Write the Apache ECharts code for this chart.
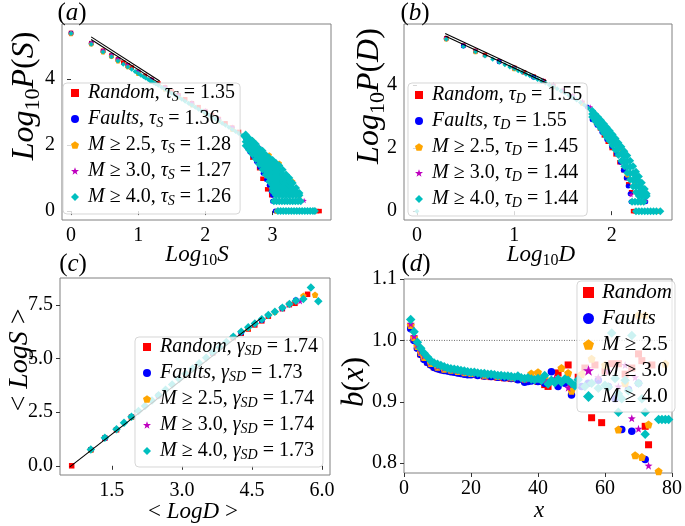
<!DOCTYPE html>
<html><head><meta charset="utf-8">
<script src="https://cdn.jsdelivr.net/npm/echarts@6/dist/echarts.min.js"></script>
<style>html,body{margin:0;padding:0;background:#fff}#c{width:685px;height:526px}</style>
</head><body><div id="c"></div>
<script>
// ---------- Panel (a): Log10 P(S) vs Log10 S ----------
const aRandom = [[0,5.40],[0.301,5.09],[0.477,4.86],[0.602,4.72],[0.699,4.60],[0.778,4.50],[0.845,4.42],[0.903,4.35],[1.0,4.22],[1.1,4.10],[1.2,3.98],[1.3,3.87],[1.4,3.75],[1.5,3.63],[1.6,3.51],[1.7,3.39],[1.8,3.27],[1.9,3.15],[2.0,3.03],[2.1,2.91],[2.2,2.79],[2.3,2.66],[2.4,2.53],[2.5,2.40],[2.6,2.25],[2.70,1.62],[2.80,1.30],[2.85,0.98],[2.92,0.66],[2.98,0.48],[3.62,0],[3.66,0],[3.70,0]];
const aFaults = [[0,5.39],[0.301,5.08],[0.477,4.84],[0.602,4.70],[0.699,4.58],[0.845,4.40],[1.0,4.20],[1.2,3.96],[1.4,3.72],[1.6,3.48],[1.8,3.24],[2.0,3.00],[2.2,2.76],[2.4,2.50],[2.6,2.20],[2.62,1.93],[2.66,1.80],[2.71,1.66],[2.76,1.50],[2.81,1.33],[2.86,1.15],[2.91,0.95],[2.95,0.78],[2.98,0.60],[3.0,0.48],[3.0,0.30],[3.04,0.0]];
const aM25 = [[0,5.38],[0.301,5.07],[0.477,4.83],[0.602,4.69],[0.699,4.56],[0.845,4.38],[1.0,4.18],[1.2,3.94],[1.4,3.70],[1.6,3.46],[1.8,3.22],[2.0,2.98],[2.2,2.74],[2.4,2.48],[2.70,2.15],[2.95,1.70],[3.10,1.45],[3.30,0.90],[3.40,0.48],[3.38,0.30],[3.06,0]];
const aM30 = [[0,5.40],[0.301,5.10],[0.477,4.87],[0.602,4.73],[0.699,4.61],[0.845,4.43],[1.0,4.24],[1.2,4.00],[1.4,3.77],[1.6,3.53],[1.8,3.29],[2.0,3.05],[2.2,2.81],[2.4,2.55],[2.80,1.95],[3.00,1.50],[3.20,1.10],[3.47,0.32],[3.50,0]];
const aM40 = [[0,5.38],[0.301,5.06],[0.477,4.82],[0.602,4.68],[0.699,4.55],[0.778,4.45],[0.845,4.37],[0.903,4.30],[0.954,4.23],[1.0,4.17],[1.04,4.12],[1.08,4.07],[1.11,4.03],[1.15,3.99],[1.18,3.95],[1.2,3.93],[1.23,3.89],[1.26,3.86],[1.3,3.81],[1.35,3.75],[1.4,3.69],[1.45,3.63],[1.5,3.57],[1.55,3.51],[1.6,3.45],[1.65,3.39],[1.7,3.33],[1.75,3.27],[1.8,3.21],[1.85,3.15],[1.9,3.09],[1.95,3.03],[2.0,2.97],[2.05,2.91],[2.1,2.85],[2.15,2.79],[2.2,2.73],[2.25,2.66],[2.3,2.60],[2.35,2.54],[2.4,2.47],[2.45,2.41],[2.5,2.35],[2.55,2.28],
[2.60,1.98],[2.60,2.10],[2.60,2.22],[2.60,2.32],
[2.65,1.85],[2.65,1.97],[2.65,2.09],[2.65,2.21],
[2.70,1.72],[2.70,1.84],[2.70,1.96],[2.70,2.08],[2.70,2.13],
[2.75,1.58],[2.75,1.70],[2.75,1.82],[2.75,1.94],[2.75,2.03],
[2.80,1.42],[2.80,1.54],[2.80,1.66],[2.80,1.78],[2.80,1.90],
[2.85,1.26],[2.85,1.38],[2.85,1.50],[2.85,1.62],[2.85,1.74],[2.85,1.83],
[2.90,1.10],[2.90,1.22],[2.90,1.34],[2.90,1.46],[2.90,1.58],[2.90,1.70],
[2.95,0.90],[2.95,1.02],[2.95,1.14],[2.95,1.26],[2.95,1.38],[2.95,1.50],[2.95,1.62],
[3.00,0.60],[3.00,0.70],[3.00,0.78],[3.00,0.90],[3.00,1.00],[3.00,1.11],[3.00,1.23],[3.00,1.35],[3.00,1.47],[3.00,1.55],
[3.05,0.48],[3.05,0.60],[3.05,0.70],[3.05,0.78],[3.05,0.90],[3.05,1.00],[3.05,1.11],[3.05,1.23],[3.05,1.35],[3.05,1.46],
[3.10,0.48],[3.10,0.60],[3.10,0.70],[3.10,0.78],[3.10,0.90],[3.10,1.00],[3.10,1.11],[3.10,1.23],[3.10,1.38],
[3.15,0.48],[3.15,0.60],[3.15,0.70],[3.15,0.78],[3.15,0.90],[3.15,1.00],[3.15,1.11],[3.15,1.25],
[3.20,0.48],[3.20,0.60],[3.20,0.70],[3.20,0.78],[3.20,0.90],[3.20,1.00],[3.20,1.11],
[3.25,0.48],[3.25,0.60],[3.25,0.70],[3.25,0.78],[3.25,0.90],[3.25,1.00],
[3.30,0.48],[3.30,0.60],[3.30,0.70],[3.30,0.85],
[3.35,0.48],[3.35,0.60],[3.35,0.70],
[3.40,0.48],[3.40,0.55],
[3.02,0.30],[3.06,0.30],[3.10,0.30],[3.14,0.30],[3.18,0.30],[3.22,0.30],[3.26,0.30],[3.30,0.30],[3.34,0.30],[3.38,0.30],[3.42,0.30],
[3.08,0],[3.12,0],[3.16,0],[3.20,0],[3.24,0],[3.28,0],[3.32,0],[3.36,0],[3.40,0],[3.44,0],[3.48,0],[3.52,0],[3.56,0],[3.60,0],[3.63,0]];
const aFit1 = [[0.30,5.28],[1.32,3.94]];
const aFit2 = [[0.30,5.20],[1.32,3.87]];
const aXTicks = [0,1,2,3];
const aYTicks = [0,2,4];

// ---------- Panel (b): Log10 P(D) vs Log10 D ----------
const bRandom = [[0.301,5.48],[0.477,5.25],[0.602,5.08],[0.699,4.95],[0.845,4.75],[1.0,4.54],[1.1,4.40],[1.2,4.26],[1.3,4.12],[1.4,3.97],[1.5,3.81],[1.6,3.63],[1.7,3.43],[1.80,2.95],[1.84,2.80],[1.88,2.62],[1.92,2.40],[1.96,2.20],[2.00,2.00],[2.04,1.80],[2.08,1.55],[2.12,1.30],[2.15,1.05],[2.17,0.85],[2.20,0.60],[2.33,0.50],[2.22,0],[2.24,0]];
const bFaults = [[0.301,5.46],[0.477,5.23],[0.602,5.06],[0.845,4.73],[1.0,4.52],[1.2,4.24],[1.4,3.95],[1.6,3.61],[1.75,3.30],[1.80,2.90],[1.85,2.72],[1.90,2.50],[1.95,2.27],[2.00,2.05],[2.05,1.82],[2.09,1.55],[2.12,1.30],[2.15,1.05],[2.17,0.80],[2.19,0.55],[2.20,0.30],[2.35,0.30],[2.36,0.48]];
const bM25 = [[0.301,5.46],[0.602,5.06],[1.0,4.52],[1.4,3.95],[1.7,3.42],[1.95,2.60],[2.10,1.95],[2.16,1.15],[2.24,0.90],[2.30,0.30],[2.48,0]];
const bM30 = [[0.301,5.49],[0.602,5.09],[1.0,4.55],[1.3,4.14],[1.4,4.00],[1.5,3.85],[1.6,3.68],[1.7,3.48],[1.78,3.30],[2.0,2.30],[2.2,0.52],[2.35,0.32]];
const bM40 = [[0,0],[0.301,5.45],[0.477,5.22],[0.602,5.05],[0.699,4.92],[0.778,4.81],[0.845,4.72],[0.903,4.64],[0.954,4.57],[1.0,4.51],[1.04,4.45],[1.08,4.40],[1.12,4.34],[1.16,4.29],[1.2,4.23],[1.24,4.17],[1.28,4.12],[1.32,4.06],[1.36,4.00],[1.40,3.94],[1.44,3.88],[1.48,3.81],[1.52,3.74],[1.56,3.67],[1.60,3.60],[1.64,3.52],[1.68,3.44],[1.72,3.36],[1.76,3.27],
[1.80,2.98],[1.80,3.08],[1.80,3.18],
[1.83,2.86],[1.83,2.97],[1.83,3.08],
[1.86,2.74],[1.86,2.86],[1.86,2.98],
[1.89,2.61],[1.89,2.74],[1.89,2.88],
[1.92,2.48],[1.92,2.62],[1.92,2.77],
[1.95,2.34],[1.95,2.50],[1.95,2.66],
[1.98,2.22],[1.98,2.38],[1.98,2.55],
[2.01,2.08],[2.01,2.25],[2.01,2.43],
[2.04,1.94],[2.04,2.12],[2.04,2.30],
[2.07,1.78],[2.07,1.98],[2.07,2.17],
[2.10,1.60],[2.10,1.82],[2.10,2.04],
[2.13,1.42],[2.13,1.58],[2.13,1.74],[2.13,1.90],
[2.16,1.22],[2.16,1.40],[2.16,1.58],[2.16,1.76],
[2.19,1.00],[2.19,1.20],[2.19,1.40],[2.19,1.60],
[2.22,0.78],[2.22,0.98],[2.22,1.20],[2.22,1.42],
[2.25,0.60],[2.25,0.78],[2.25,0.95],[2.25,1.10],[2.25,1.25],
[2.28,0.48],[2.28,0.60],[2.28,0.78],[2.28,0.95],[2.28,1.10],
[2.31,0.48],[2.31,0.60],[2.31,0.75],[2.31,0.90],
[2.34,0.48],[2.34,0.60],[2.34,0.70],
[2.36,0.48],[2.36,0.55],
[2.21,0.30],[2.24,0.30],[2.27,0.30],[2.30,0.30],[2.33,0.30],
[2.25,0],[2.28,0],[2.31,0],[2.34,0],[2.37,0],[2.40,0],[2.43,0],[2.46,0],[2.50,0]];
const bFit1 = [[0.29,5.63],[1.33,4.13]];
const bFit2 = [[0.29,5.55],[1.33,4.06]];
const bXTicks = [0,1,2];
const bYTicks = [0,2,4];

// ---------- Panel (c): <LogS> vs <LogD> ----------
const cRandom = [[0.64,0.0],[1.05,0.74],[1.35,1.29],[1.60,1.68],[1.92,2.27],[2.50,3.27],[3.08,4.27],[3.66,5.26],[4.10,5.98],[4.27,6.18],[4.42,6.38],[4.56,6.57],[4.71,6.76],[4.85,6.98],[5.15,7.33],[5.30,7.52],[5.42,7.58],[5.69,8.0]];
const cFaults = [[1.05,0.75],[1.35,1.30],[1.92,2.28],[2.50,3.28],[3.66,5.27],[4.27,6.22],[4.71,6.80],[5.15,7.36],[5.44,7.72]];
const cM25 = [[1.05,0.76],[1.92,2.29],[3.08,4.29],[4.42,6.45],[4.99,7.18],[5.60,7.93],[5.85,7.98]];
const cM30 = [[1.35,1.31],[2.50,3.29],[4.56,6.62],[5.15,7.34],[5.30,7.52],[5.53,7.68]];
const cM40 = [[1.05,0.76],[1.35,1.31],[1.60,1.70],[1.76,2.01],[1.92,2.29],[2.07,2.55],[2.21,2.79],[2.36,3.05],[2.50,3.29],[2.65,3.55],[2.79,3.79],[2.94,4.05],[3.08,4.29],[3.23,4.54],[3.37,4.78],[3.52,5.04],[3.66,5.28],[3.81,5.53],[3.95,5.77],[4.10,6.02],[4.27,6.25],[4.42,6.46],[4.56,6.64],[4.71,6.83],[4.85,7.03],[4.99,7.19],[5.15,7.37],[5.30,7.55],[5.44,7.70],[5.60,7.78],[5.76,8.32],[5.92,7.68]];
const cFit = [[0.60,-0.05],[4.71,6.91]];
const cXTicks = [1.5,3.0,4.5,6.0];
const cYTicks = [0,2.5,5.0,7.5];

// ---------- Panel (d): b(x) vs x ----------
const dRandom = [[2,1.022],[3,1.002],[4,0.989],[5,0.978],[6,0.971],[7,0.965],[8,0.961],[9,0.957],[10,0.955],[11,0.953],[12,0.952],[13,0.951],[14,0.950],[15,0.949],[16,0.948],[17,0.947],[18,0.946],[20,0.945],[22,0.944],[24,0.942],[26,0.941],[28,0.940],[30,0.939],[32,0.938],[34,0.937],[36,0.936],[38,0.935],[40,0.933],[42,0.928],[43,0.925],[46,0.947],[49,0.960],[50,0.925],[52,0.940],[54,0.955],[56,0.874],[57,0.960],[59,0.866],[60,0.950],[62,0.962],[64,0.962],[66,0.945],[68,0.955],[70,0.978],[71,0.967],[72,0.860],[73,0.830],[74,0.960]];
const dFaults = [[2,1.019],[3,1.000],[4,0.987],[5,0.977],[6,0.969],[7,0.964],[8,0.960],[9,0.956],[10,0.954],[11,0.952],[12,0.951],[13,0.950],[14,0.949],[15,0.948],[16,0.947],[17,0.946],[18,0.945],[19,0.944],[20,0.944],[22,0.943],[24,0.942],[26,0.941],[28,0.940],[30,0.939],[32,0.938],[34,0.936],[36,0.932],[37,0.933],[38,0.934],[40,0.933],[42,0.930],[44,0.949],[46,0.925],[48,0.930],[50,0.911],[53,0.925],[55,0.930],[58,0.935],[61,0.925],[63,0.905],[65,0.855],[67,0.920],[68,0.852],[70,0.930],[72,0.806]];
const dM25 = [[2,1.025],[3,1.005],[4,0.991],[5,0.981],[6,0.973],[8,0.963],[10,0.957],[12,0.954],[14,0.952],[16,0.950],[18,0.948],[20,0.947],[24,0.944],[28,0.942],[32,0.940],[36,0.938],[38,0.946],[40,0.948],[42,0.938],[45,0.935],[47,0.955],[49,0.947],[50,0.918],[53,0.945],[56,0.970],[60,0.960],[64,0.855],[66,0.930],[69,0.813],[70,1.041],[71,0.810],[72,1.041],[73,0.863],[76,0.787],[78,0.962]];
const dM30 = [[2,1.027],[3,1.007],[4,0.993],[5,0.982],[6,0.975],[8,0.965],[10,0.958],[12,0.955],[14,0.953],[16,0.951],[18,0.949],[20,0.948],[24,0.945],[28,0.942],[32,0.940],[36,0.937],[40,0.936],[42,0.935],[45,0.938],[49,0.923],[55,0.955],[58,0.940],[61,0.950],[64,0.925],[66,0.960],[68,0.873],[69,0.940],[70,0.856],[73,0.796]];
const dM40 = [[2,1.034],[3,1.014],[4,0.997],[5,0.987],[6,0.979],[7,0.973],[8,0.967],[9,0.963],[10,0.961],[11,0.959],[12,0.957],[13,0.955],[14,0.954],[15,0.953],[16,0.952],[17,0.951],[18,0.950],[19,0.949],[20,0.948],[21,0.948],[22,0.947],[23,0.946],[24,0.946],[25,0.945],[26,0.945],[27,0.944],[28,0.943],[29,0.943],[30,0.942],[31,0.942],[32,0.941],[33,0.940],[34,0.942],[35,0.939],[36,0.938],[37,0.939],[38,0.937],[39,0.936],[40,0.938],[41,0.935],[42,0.943],[43,0.929],[44,0.935],[45,0.931],[46,0.937],[47,0.932],[48,0.937],[49,0.935],[50,0.930],[51,0.926],[52,0.936],[54,0.925],[56,0.930],[58,0.922],[60,0.927],[61,0.924],[62,1.012],[63,0.938],[64,0.913],[64,0.883],[65,0.905],[66,0.935],[67,0.918],[68,1.008],[70,0.930],[71,0.905],[72,0.847],[72,0.883],[76,0.871],[77,0.871],[78,0.871],[79,0.871]];
const dRef = [[0,1.0],[80,1.0]];
const dXTicks = [0,20,40,60,80];
const dYTicks = [0.8,0.9,1.0,1.1];

// ---------- Legend texts ----------
const legA = ['{i|Random}{r|, }{i|τ}{s|S}{r| = 1.35}','{i|Faults}{r|, }{i|τ}{s|S}{r| = 1.36}','{i|M}{r| ≥ 2.5, }{i|τ}{s|S}{r| = 1.28}','{i|M}{r| ≥ 3.0, }{i|τ}{s|S}{r| = 1.27}','{i|M}{r| ≥ 4.0, }{i|τ}{s|S}{r| = 1.26}'];
const legB = ['{i|Random}{r|, }{i|τ}{s|D}{r| = 1.55}','{i|Faults}{r|, }{i|τ}{s|D}{r| = 1.55}','{i|M}{r| ≥ 2.5, }{i|τ}{s|D}{r| = 1.45}','{i|M}{r| ≥ 3.0, }{i|τ}{s|D}{r| = 1.44}','{i|M}{r| ≥ 4.0, }{i|τ}{s|D}{r| = 1.44}'];
const legC = ['{i|Random}{r|, }{i|γ}{s|SD}{r| = 1.74}','{i|Faults}{r|, }{i|γ}{s|SD}{r| = 1.73}','{i|M}{r| ≥ 2.5, }{i|γ}{s|SD}{r| = 1.74}','{i|M}{r| ≥ 3.0, }{i|γ}{s|SD}{r| = 1.74}','{i|M}{r| ≥ 4.0, }{i|γ}{s|SD}{r| = 1.73}'];
const legD = ['{i|Random}','{i|Faults}','{i|M}{r| ≥ 2.5}','{i|M}{r| ≥ 3.0}','{i|M}{r| ≥ 4.0}'];

// ---------- Build ----------
const FONT = 'Liberation Serif';
const COLORS = ['#ff0000','#0000ff','#ffa500','#bf00bf','#00bfbf'];
const PENT = 'path://M0,-10 L9.51,-3.09 L5.88,8.09 L-5.88,8.09 L-9.51,-3.09 Z';
const STAR = 'path://M0,-10 L2.35,-3.24 L9.51,-3.09 L3.8,1.24 L5.88,8.09 L0,4 L-5.88,8.09 L-3.8,1.24 L-9.51,-3.09 L-2.35,-3.24 Z';
const SYMS = ['rect','circle',PENT,STAR,'diamond'];

// cloud markers (dense part) drawn a bit bigger so the band reads as filled
const cloudA = v => v[0] > 2.57 ? 8 : 5;
const cloudB = v => v[0] > 1.78 ? 8 : 5;
const panels = [
  {k:'a', data:[aRandom,aFaults,aM25,aM30,aM40], sizes:[4.5,5,5.5,5.5,cloudA], fits:[aFit1,aFit2], leg:legA},
  {k:'b', data:[bRandom,bFaults,bM25,bM30,bM40], sizes:[4.5,5,5.5,5.5,cloudB], fits:[bFit1,bFit2], leg:legB},
  {k:'c', data:[cRandom,cFaults,cM25,cM30,cM40], sizes:[5.5,6,6.5,6.5,8.5], fits:[cFit], leg:legC},
  {k:'d', data:[dRandom,dFaults,dM25,dM30,dM40], sizes:[7,7.5,8,8,9.5], fits:[], leg:legD}
];

const grids = [
  {left:62, top:24, width:269, height:196},
  {left:404, top:24, width:268, height:196},
  {left:60, top:278, width:270, height:197},
  {left:404, top:279, width:271, height:194}
];
const xr = [[-0.134,3.87],[-0.133,2.62],[0.39,6.17],[0,80]];
const yr = [[-0.27,5.67],[-0.28,5.93],[-0.43,8.76],[0.784,1.1]];
const xt = [aXTicks,bXTicks,cXTicks,dXTicks];
const yt = [aYTicks,bYTicks,cYTicks,dYTicks];
const xf = [v=>String(v), v=>String(v), v=>v.toFixed(1), v=>String(v)];
const yf = [v=>String(v), v=>String(v), v=>v.toFixed(1), v=>v.toFixed(1)];

const tickStyle = {length:4, lineStyle:{color:'#333', width:1}};
const xAxis = [], yAxis = [], series = [], legend = [];
for (let g=0; g<4; g++) {
  xAxis.push({type:'value', gridIndex:g, min:xr[g][0], max:xr[g][1],
    axisLine:{show:false}, splitLine:{show:false},
    axisTick:Object.assign({customValues:xt[g]}, tickStyle),
    axisLabel:{customValues:xt[g], formatter:xf[g], fontFamily:FONT, fontSize:20, color:'#000', margin:6}});
  yAxis.push({type:'value', gridIndex:g, min:yr[g][0], max:yr[g][1],
    axisLine:{show:false}, splitLine:{show:false},
    axisTick:Object.assign({customValues:yt[g]}, tickStyle),
    axisLabel:{customValues:yt[g], formatter:yf[g], fontFamily:FONT, fontSize:20, color:'#000', margin:7}});
}
panels.forEach((p, g) => {
  if (p.k === 'd') {
    series.push({type:'line', xAxisIndex:g, yAxisIndex:g, data:dRef, symbol:'none', silent:true,
      lineStyle:{color:'#444', width:0.8, type:[1,1.5]}, z:1});
  }
  p.data.forEach((d, i) => {
    series.push({type:'scatter', name:p.k+i, xAxisIndex:g, yAxisIndex:g, data:d, symbol:SYMS[i],
      symbolSize:p.sizes[i], itemStyle:{color:COLORS[i], opacity:1}, silent:true});
  });
  p.fits.forEach(f => {
    series.push({type:'line', xAxisIndex:g, yAxisIndex:g, data:f, symbol:'none', silent:true,
      lineStyle:{color:'#000', width:1.1}, z:3});
  });
});

function rich(fs, gap) {
  return {
    p:{width:gap, fontSize:fs, lineHeight:22},
    i:{fontFamily:FONT, fontStyle:'italic', fontSize:fs, lineHeight:22, color:'#000'},
    r:{fontFamily:FONT, fontSize:fs, lineHeight:22, color:'#000'},
    s:{fontFamily:FONT, fontStyle:'italic', fontSize:Math.round(fs*0.7), lineHeight:10, verticalAlign:'bottom', color:'#000'}
  };
}
const legPos = [
  {left:63, top:83, padding:[0,5,6,8], item:8, gap:4, fs:20},
  {left:408, top:83, padding:[2,5,6,7], item:8, gap:4, fs:20},
  {left:135, top:337, padding:[0,5,5,8], item:8, gap:4, fs:20},
  {left:577, top:281, padding:[1,3,5,6], item:11, gap:3, fs:21}
];
panels.forEach((p, g) => {
  const L = legPos[g];
  const names = p.data.map((_, i) => p.k+i);
  const map = {}; names.forEach((n, i) => map[n] = '{p|}' + p.leg[i]);
  legend.push({orient:'vertical', left:L.left, top:L.top, padding:L.padding, itemWidth:L.item, itemHeight:L.item,
    itemGap:5, selectedMode:false, data:names, formatter:n => map[n],
    backgroundColor:'rgba(255,255,255,0.8)', borderColor:'rgba(204,204,204,0.8)', borderWidth:1, borderRadius:4,
    textStyle:{rich:rich(L.fs, L.gap), fontFamily:FONT, fontSize:L.fs}, z:5});
});

// Axis titles and panel labels
function label(text, x, y, fs, rot) {
  return {type:'text', x:x, y:y, rotation:rot||0, silent:true, z:10,
    style:{text:text, align:'center', verticalAlign:'middle',
      rich:{
        i:{fontFamily:FONT, fontStyle:'italic', fontSize:fs, lineHeight:Math.round(fs*1.2), fill:'#000'},
        r:{fontFamily:FONT, fontSize:fs, lineHeight:Math.round(fs*1.2), fill:'#000'},
        s:{fontFamily:FONT, fontSize:Math.round(fs*0.7), lineHeight:Math.round(fs*0.45), verticalAlign:'bottom', fill:'#000'}
      }}};
}
const graphic = [
  label('{r|(}{i|a}{r|)}', 72, 13, 25),
  label('{r|(}{i|b}{r|)}', 415, 13, 25),
  label('{r|(}{i|c}{r|)}', 73, 264, 25),
  label('{r|(}{i|d}{r|)}', 416, 264, 25),
  label('{i|Log}{s|10}{i|S}', 197, 255, 23),
  label('{i|Log}{s|10}{i|D}', 541, 255, 23),
  label('{r|< }{i|LogD}{r| >}', 193, 512, 23),
  label('{i|x}', 539, 511, 23),
  label('{i|Log}{s|10}{i|P}{r|(}{i|S}{r|)}', 25, 96, 32, Math.PI/2),
  label('{i|Log}{s|10}{i|P}{r|(}{i|D}{r|)}', 370, 96, 32, Math.PI/2),
  label('{r|< }{i|LogS}{r| >}', 20, 360, 28, Math.PI/2),
  label('{i|b}{r|(}{i|x}{r|)}', 355, 382, 31, Math.PI/2)
];

const chart = echarts.init(document.getElementById('c'), null, {renderer:'canvas'});
chart.setOption({
  animation:false,
  backgroundColor:'#fff',
  grid: grids.map(g => Object.assign({show:true, borderColor:'#808080', borderWidth:1, backgroundColor:'rgba(0,0,0,0)', containLabel:false}, g)),
  xAxis, yAxis, series, legend, graphic
});
</script></body></html>
